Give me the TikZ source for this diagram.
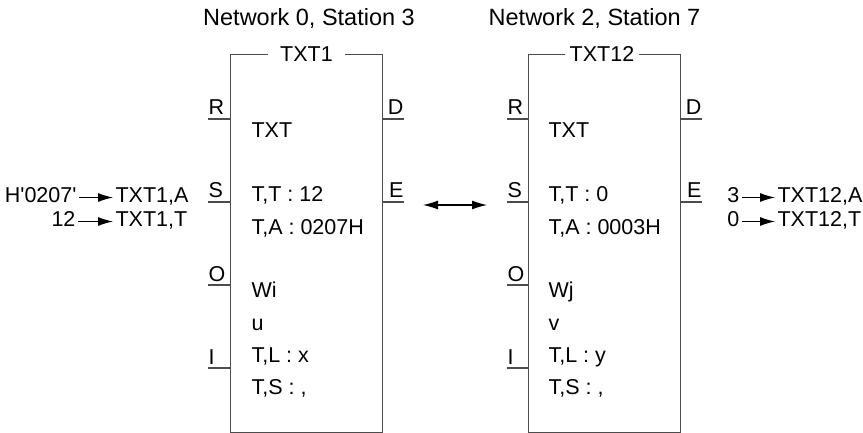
\documentclass[tikz,border=0pt]{standalone}
\usepackage{fontspec}
\setmainfont{Liberation Sans}
\usetikzlibrary{arrows.meta}
\def\pinsep{83}
\def\rowsep{32}

\begin{document}
\begin{tikzpicture}[x=1pt,y=-1pt,line width=1.1pt]
      \tikzstyle{every node}=[font=\fontsize{21.5}{26}\selectfont]
      \tikzstyle{blk}=[rectangle,minimum width=151pt,minimum height=377pt,inner sep=0pt]
      \tikzstyle{frame}=[draw=black!70]
      \tikzstyle{txt}=[inner sep=2pt,text height=15pt,text depth=4pt]
      \tikzstyle{sig}=[-{Latex[length=15pt,width=9pt]},draw=black]
      \tikzstyle{ttl}=[font=\fontsize{23.5}{28}\selectfont]

      \useasboundingbox (0,0) rectangle (863,433);

      % Draw the two station blocks
      \node[blk] (B1) at (306.5,243.5) {};
      \node[blk] (B2) at (604.5,243.5) {};
      \node[txt,anchor=base,inner xsep=12pt] (T1) at (306.5,62) {TXT1};
      \node[txt,anchor=base,inner xsep=4pt] (T2) at (602,62) {TXT12};
      \foreach \b in {1,2}
          \draw[frame] (T\b.west |- B\b.north) -- (B\b.north west) -- (B\b.south west)
              -- (B\b.south east) -- (B\b.north east) -- (T\b.east |- B\b.north);

      % Annotate the stations
      \node[ttl,anchor=base] (net1) at (309,26) {Network 0, Station 3};
      \node[ttl,anchor=base] (net2) at (594.5,26) {Network 2, Station 7};

      % Pins on the left side of each block
      \foreach \b/\x in {1/208,2/507}
          \foreach \p/\k in {R/0,S/1,O/2,I/3} {
              \coordinate (pl\b-\p) at (\x,{119+\pinsep*\k});
              \draw[frame] (pl\b-\p) -- (B\b.west |- pl\b-\p);
              \node[txt,anchor=base west,inner sep=0pt] (nl\b-\p) at ([yshift=4pt]pl\b-\p) {\p};
          }

      % Pins on the right side of each block
      \foreach \b/\x in {1/404,2/702}
          \foreach \p/\k in {D/0,E/1} {
              \coordinate (pr\b-\p) at (\x,{119+\pinsep*\k});
              \draw[frame] (B\b.east |- pr\b-\p) -- (pr\b-\p);
              \node[txt,anchor=base east,inner sep=0pt] (nr\b-\p) at ([yshift=4pt]pr\b-\p) {\p};
          }

      % Contents of the first block
      \foreach \txt/\k in {TXT/0,{T,T : 12}/2,{T,A : 0207H}/3,Wi/5,u/6,{T,L : x}/7,{T,S : ,}/8}
          \node[txt,anchor=base west] (in1-\k) at (249,{138+\rowsep*\k}) {\txt};

      % Contents of the second block
      \foreach \txt/\k in {TXT/0,{T,T : 0}/2,{T,A : 0003H}/3,Wj/5,v/6,{T,L : y}/7,{T,S : ,}/8}
          \node[txt,anchor=base west] (in2-\k) at (546,{138+\rowsep*\k}) {\txt};

      % Link between the stations
      \coordinate (lk-a) at (423,205);
      \coordinate (lk-b) at (487,205);
      \draw[sig,{Latex[length=15pt,width=9pt]}-{Latex[length=15pt,width=9pt]}] (lk-a) -- (lk-b);

      % Values moved into the first block
      \node[txt,anchor=base east] (vA) at (79,203) {H\textquotesingle0207\textquotesingle};
      \node[txt,anchor=base west] (dA) at (113,203) {TXT1,A};
      \node[txt,anchor=base east] (vT) at (78,227) {12};
      \node[txt,anchor=base west] (dT) at (113,227) {TXT1,T};
      \draw[sig] (vA.east) -- (dA.west);
      \draw[sig] (vT.east) -- (dT.west);

      % Values moved into the second block
      \node[txt,anchor=base east] (wA) at (742,203) {3};
      \node[txt,anchor=base west] (eA) at (775,203) {TXT12,A};
      \node[txt,anchor=base east] (wT) at (742,227) {0};
      \node[txt,anchor=base west] (eT) at (775,227) {TXT12,T};
      \draw[sig] (wA.east) -- (eA.west);
      \draw[sig] (wT.east) -- (eT.west);
  \end{tikzpicture}
\end{document}
